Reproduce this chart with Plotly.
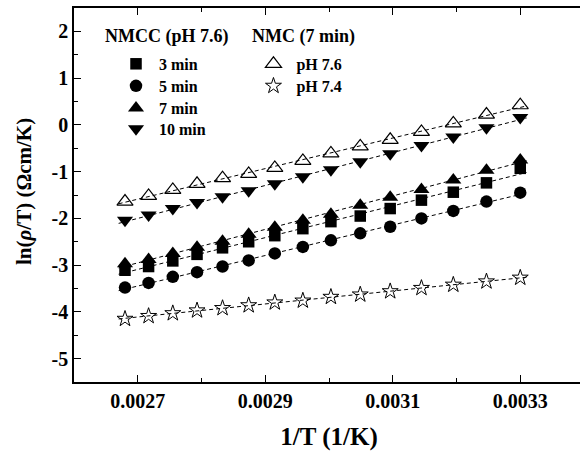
import numpy as np
import plotly.graph_objects as go

# 1/T values (1/K)
inv_T = [0.002680, 0.002717, 0.002755, 0.002793, 0.002833, 0.002874, 0.002915,
         0.002959, 0.003003, 0.003049, 0.003096, 0.003145, 0.003195, 0.003247, 0.003300]

# ln(rho/T) series
nmcc_3min = [-3.11, -3.03, -2.91, -2.77, -2.63, -2.50, -2.37, -2.22, -2.07, -1.95,
             -1.79, -1.61, -1.44, -1.24, -0.93]
nmcc_5min = [-3.48, -3.38, -3.25, -3.15, -3.03, -2.90, -2.75, -2.61, -2.47, -2.32,
             -2.18, -2.00, -1.84, -1.64, -1.45]
nmcc_7min = [-2.97, -2.88, -2.75, -2.62, -2.49, -2.34, -2.19, -2.04, -1.91, -1.72,
             -1.55, -1.38, -1.18, -0.97, -0.75]
nmcc_10min = [-2.04, -1.93, -1.79, -1.66, -1.54, -1.41, -1.26, -1.11, -0.96, -0.79,
              -0.62, -0.44, -0.26, -0.06, 0.16]
nmc_ph76 = [-1.64, -1.52, -1.39, -1.26, -1.14, -1.05, -0.92, -0.77, -0.61, -0.46,
            -0.32, -0.15, 0.03, 0.22, 0.42]
nmc_ph74 = [-4.15, -4.09, -4.03, -3.97, -3.92, -3.86, -3.80, -3.76, -3.68, -3.63,
            -3.56, -3.49, -3.42, -3.35, -3.27]

x_ticks = [0.0027, 0.0029, 0.0031, 0.0033]
x_tick_labels = ["0.0027", "0.0029", "0.0031", "0.0033"]
y_ticks = [2, 1, 0, -1, -2, -3, -4, -5]
y_tick_labels = ["2", "1", "0", "-1", "-2", "-3", "-4", "-5"]

FONT = "Liberation Serif"

series = [
    ("3 min", nmcc_3min, dict(symbol="square", size=11.5, color="black")),
    ("5 min", nmcc_5min, dict(symbol="circle", size=12.5, color="black")),
    ("7 min", nmcc_7min, dict(symbol="triangle-up", size=14, color="black")),
    ("10 min", nmcc_10min, dict(symbol="triangle-down", size=14, color="black")),
    ("pH 7.6", nmc_ph76, dict(symbol="triangle-up", size=14, color="white",
                              line=dict(color="black", width=1.2))),
    ("pH 7.4", nmc_ph74, dict(symbol="star", size=12, color="white",
                              line=dict(color="black", width=1))),
]
legend_ids = ["legend", "legend2", "legend3", "legend4", "legend5", "legend6"]
# legend placement (paper coords): left edge x, top y
legend_pos = [(0.0765, 0.896), (0.0765, 0.837), (0.0765, 0.778), (0.0765, 0.722),
              (0.346, 0.896), (0.346, 0.837)]

fig = go.Figure()

for (name, ys, mk), lg in zip(series, legend_ids):
    fig.add_trace(go.Scatter(x=inv_T, y=ys, mode="markers", name="<b>%s</b>" % name,
                             marker=mk, legend=lg))

# linear fit lines (dashed)
x_arr = np.array(inv_T)
xf = np.array([x_arr.min() - 0.00001, x_arr.max() + 0.00001])
for name, ys, mk in series:
    k, b = np.polyfit(x_arr, np.array(ys), 1)
    fig.add_trace(go.Scatter(x=xf, y=k * xf + b, mode="lines",
                             line=dict(color="black", width=1, dash="4px,3px"),
                             showlegend=False, hoverinfo="skip"))

axis_font = dict(family=FONT, size=20, color="black")

layout_legends = {}
for lg, (lx, ly) in zip(legend_ids, legend_pos):
    layout_legends[lg] = dict(x=lx, y=ly, xanchor="left", yanchor="top",
                              bgcolor="rgba(0,0,0,0)",
                              font=dict(family=FONT, size=16, color="black"),
                              itemwidth=36)

fig.update_layout(
    width=584, height=455,
    margin=dict(l=74, r=0, t=8, b=73),
    paper_bgcolor="white", plot_bgcolor="white",
    font=dict(family=FONT, color="black"),
    xaxis=dict(
        range=[0.0026, 0.0034],
        tickvals=x_ticks, ticktext=["<b>%s</b>" % t for t in x_tick_labels],
        ticks="inside", ticklen=7, tickwidth=1, tickcolor="black",
        minor=dict(ticks="inside", ticklen=4, dtick=0.0001, tick0=0.0026, tickcolor="black"),
        showline=True, linecolor="black", linewidth=1.5, mirror="ticks",
        showgrid=False, zeroline=False,
        tickfont=axis_font,
        title=dict(text="<b>1/T (1/K)</b>", font=dict(family=FONT, size=25, color="black"),
                   standoff=17),
    ),
    yaxis=dict(
        range=[-5.5, 2.5],
        tickvals=y_ticks, ticktext=["<b>%s</b>" % t for t in y_tick_labels],
        ticks="inside", ticklen=7, tickwidth=1, tickcolor="black",
        minor=dict(ticks="inside", ticklen=4, dtick=0.5, tick0=0, tickcolor="black"),
        showline=True, linecolor="black", linewidth=1.5, mirror=False,
        showgrid=False, zeroline=False,
        tickfont=axis_font,
    ),
    annotations=[
        dict(text="<b>ln(<i>ρ</i>/T) (Ωcm/K)</b>", xref="paper", yref="paper",
             x=-0.098, y=0.508, xanchor="center", yanchor="middle", textangle=-90,
             showarrow=False, font=dict(family=FONT, size=21, color="black")),
        dict(text="<b>NMCC (pH 7.6)</b>", xref="paper", yref="paper", x=0.0565, y=0.925,
             xanchor="left", yanchor="middle", showarrow=False,
             font=dict(family=FONT, size=18, color="black")),
        dict(text="<b>NMC (7 min)</b>", xref="paper", yref="paper", x=0.345, y=0.925,
             xanchor="left", yanchor="middle", showarrow=False,
             font=dict(family=FONT, size=18, color="black")),
    ],
    **layout_legends,
)

fig.write_html(
    "out.html",
    config={"displayModeBar": False},
    post_script="document.body.style.margin='0';document.body.style.overflow='hidden';",
)
